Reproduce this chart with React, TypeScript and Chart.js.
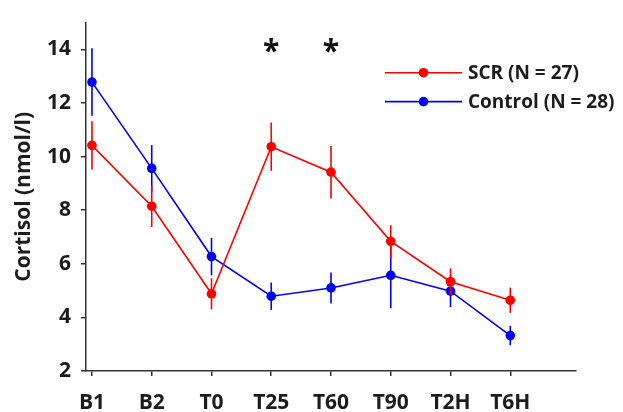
import React, { useEffect, useRef } from 'react';
import { Chart, registerables } from 'chart.js';

Chart.register(...registerables);

// ---- Data ----
const categories = ['B1', 'B2', 'T0', 'T25', 'T60', 'T90', 'T2H', 'T6H'];
const scrMean = [10.42, 8.15, 4.88, 10.37, 9.42, 6.84, 5.33, 4.64];
const scrErr = [0.9, 0.78, 0.58, 0.9, 0.98, 0.6, 0.5, 0.47];
const ctrlMean = [12.78, 9.56, 6.27, 4.79, 5.1, 5.57, 4.98, 3.32];
const ctrlErr = [1.26, 0.87, 0.7, 0.51, 0.58, 1.23, 0.6, 0.36];
const yTicks = [2, 4, 6, 8, 10, 12, 14];
const significant = ['T25', 'T60'];
const seriesLabels = ['SCR (N = 27)', 'Control (N = 28)'];
const seriesColors = ['#ff0000', '#0000ff'];

const FONT = '"Open Sans", "DejaVu Sans", sans-serif';
const TEXT = '#1c1c1c';
const AXIS = '#333333';

export default function App() {
  const ref = useRef<HTMLCanvasElement>(null);

  useEffect(() => {
    if (!ref.current) return;

    const errorBars = {
      id: 'errorBars',
      beforeDatasetDraw(chart: any, args: any) {
        const ds: any = chart.data.datasets[args.index];
        const errs: number[] = ds.errors;
        if (!errs) return;
        const ctx = chart.ctx;
        const ys = chart.scales.y;
        const xs = chart.scales.x;
        ctx.save();
        ctx.strokeStyle = ds.borderColor;
        ctx.lineWidth = 1.6;
        ds.data.forEach((d: any, i: number) => {
          const x = xs.getPixelForValue(d.x);
          ctx.beginPath();
          ctx.moveTo(x, ys.getPixelForValue(d.y + errs[i]));
          ctx.lineTo(x, ys.getPixelForValue(d.y - errs[i]));
          ctx.stroke();
        });
        ctx.restore();
      },
    };

    const annotations = {
      id: 'annotations',
      afterDraw(chart: any) {
        const ctx = chart.ctx;
        const xs = chart.scales.x;
        const ys = chart.scales.y;
        ctx.save();
        // significance asterisks
        ctx.fillStyle = '#111';
        ctx.font = `bold 30px ${FONT}`;
        ctx.textAlign = 'center';
        ctx.textBaseline = 'alphabetic';
        significant.forEach((lab) => {
          const i = categories.indexOf(lab);
          ctx.fillText('*', xs.getPixelForValue(i), ys.getPixelForValue(13.56));
        });
        // legend
        const area = chart.chartArea;
        const lx0 = area.right - 191;
        const lx1 = area.right - 114;
        const tx = area.right - 108;
        const ly = [ys.getPixelForValue(13.13), ys.getPixelForValue(12.05)];
        chart.data.datasets.forEach((ds: any, k: number) => {
          const y = ly[k];
          ctx.strokeStyle = ds.borderColor;
          ctx.lineWidth = 1.6;
          ctx.beginPath();
          ctx.moveTo(lx0, y);
          ctx.lineTo(lx1, y);
          ctx.stroke();
          ctx.fillStyle = ds.borderColor;
          ctx.beginPath();
          ctx.arc((lx0 + lx1) / 2, y, 4.8, 0, Math.PI * 2);
          ctx.fill();
          ctx.fillStyle = TEXT;
          ctx.font = `bold 19px ${FONT}`;
          ctx.textAlign = 'left';
          ctx.textBaseline = 'middle';
          ctx.fillText(ds.label, tx, y + 1);
        });
        ctx.restore();
      },
    };

    const mk = (means: number[], errs: number[], k: number) => ({
      label: seriesLabels[k],
      data: means.map((v, i) => ({ x: i, y: v })),
      errors: errs,
      borderColor: seriesColors[k],
      backgroundColor: seriesColors[k],
      borderWidth: 1.6,
      pointRadius: 4.8,
      pointHoverRadius: 4.8,
      pointBorderWidth: 0,
      tension: 0,
      fill: false,
    });

    const chart = new Chart(ref.current, {
      type: 'line',
      data: {
        datasets: [mk(scrMean, scrErr, 0), mk(ctrlMean, ctrlErr, 1)] as any,
      },
      options: {
        animation: false,
        responsive: false,
        events: [],
        layout: { padding: { top: 11, right: 47, left: 0, bottom: 0 } },
        plugins: {
          legend: { display: false },
          tooltip: { enabled: false },
        },
        scales: {
          x: {
            type: 'linear',
            min: -0.1,
            max: 8.1,
            afterFit: (s: any) => {
              s.height = 41;
            },
            afterBuildTicks: (s: any) => {
              s.ticks = categories.map((_, i) => ({ value: i }));
            },
            grid: {
              display: true,
              drawOnChartArea: false,
              drawTicks: true,
              tickLength: 5,
              color: AXIS,
              lineWidth: 1.5,
            },
            border: { display: true, color: AXIS, width: 1.5 },
            ticks: {
              autoSkip: false,
              maxRotation: 0,
              padding: 14,
              color: TEXT,
              font: { family: FONT, size: 21, weight: 'bold' },
              callback: (v: any) => categories[Math.round(Number(v))] ?? '',
            },
          },
          y: {
            min: 2,
            max: 15,
            afterFit: (s: any) => {
              s.width = 86;
            },
            afterBuildTicks: (s: any) => {
              s.ticks = yTicks.map((v) => ({ value: v }));
            },
            grid: {
              display: true,
              drawOnChartArea: false,
              drawTicks: true,
              tickLength: 5,
              color: AXIS,
              lineWidth: 1.5,
            },
            border: { display: true, color: AXIS, width: 1.5 },
            ticks: {
              padding: 10,
              color: TEXT,
              font: { family: FONT, size: 21, weight: 'bold' },
            },
            title: {
              display: true,
              text: 'Cortisol (nmol/l)',
              color: TEXT,
              font: { family: FONT, size: 21, weight: 'bold' },
              padding: { top: 11, bottom: 0 },
            },
          },
        },
      },
      plugins: [errorBars, annotations],
    });

    return () => chart.destroy();
  }, []);

  return (
    <div style={{ position: 'absolute', left: 0, top: 0, width: 623, height: 412, background: '#fff' }}>
      <canvas ref={ref} width={623} height={412} style={{ display: 'block' }} />
    </div>
  );
}
